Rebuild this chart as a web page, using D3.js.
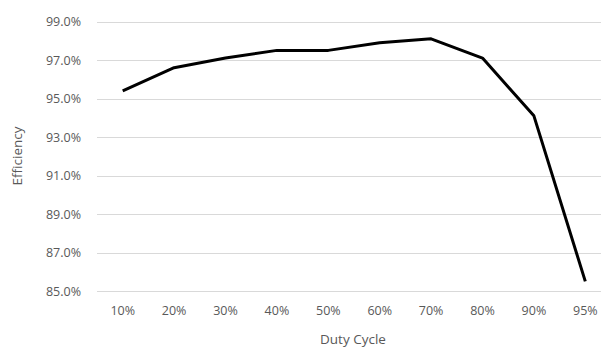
<!DOCTYPE html>
<html>
<head>
<meta charset="utf-8">
<script src="https://cdn.jsdelivr.net/npm/d3@7"></script>
<style>
  html, body { margin: 0; padding: 0; background: #fff; }
  svg { display: block; }
  text { font-family: "Open Sans", "Liberation Sans", sans-serif; fill: #595959; }
</style>
</head>
<body>
<svg id="chart" width="601" height="347"></svg>
<script>
// Efficiency vs. duty cycle
const categories = ["10%", "20%", "30%", "40%", "50%", "60%", "70%", "80%", "90%", "95%"];
const efficiency = [95.4, 96.6, 97.1, 97.5, 97.5, 97.9, 98.1, 97.1, 94.1, 85.5];
const yTicks = [85, 87, 89, 91, 93, 95, 97, 99];

const svg = d3.select("#chart");
const plot = { left: 97, right: 611, top: 21.5, bottom: 291 };

const x = d3.scaleBand().domain(categories).range([plot.left, plot.right]);
const y = d3.scaleLinear().domain([85, 99]).range([plot.bottom, plot.top]);

// horizontal gridlines
svg.append("g")
  .selectAll("line")
  .data(yTicks)
  .join("line")
  .attr("x1", plot.left).attr("x2", 601)
  .attr("y1", d => Math.round(y(d)) + 0.5)
  .attr("y2", d => Math.round(y(d)) + 0.5)
  .attr("stroke", "#d9d9d9")
  .attr("stroke-width", 1);

// y tick labels
const yAxis = d3.axisLeft(y).tickValues(yTicks).tickSize(0).tickPadding(0)
  .tickFormat(d => d3.format(".1f")(d) + "%");
const gy = svg.append("g").attr("transform", "translate(81,0)").call(yAxis);
gy.select(".domain").remove();
gy.selectAll("text").attr("font-size", 12.5).attr("font-family", null).attr("fill", "#595959");

// x tick labels
const xAxis = d3.axisBottom(x).tickSize(0).tickPadding(0);
const gx = svg.append("g").attr("transform", "translate(0,306)").call(xAxis);
gx.select(".domain").remove();
gx.selectAll("text").attr("font-size", 12.5).attr("font-family", null).attr("fill", "#595959");

// series line
const line = d3.line()
  .x((d, i) => x(categories[i]) + x.bandwidth() / 2)
  .y(d => y(d));
svg.append("path")
  .datum(efficiency)
  .attr("d", line)
  .attr("fill", "none")
  .attr("stroke", "#000")
  .attr("stroke-width", 3)
  .attr("stroke-linejoin", "round");

// axis titles
svg.append("text")
  .attr("x", 353).attr("y", 344)
  .attr("text-anchor", "middle")
  .attr("font-size", 13.5)
  .text("Duty Cycle");
svg.append("text")
  .attr("transform", "translate(22,156) rotate(-90)")
  .attr("text-anchor", "middle")
  .attr("font-size", 13.5)
  .text("Efficiency");
</script>
</body>
</html>
